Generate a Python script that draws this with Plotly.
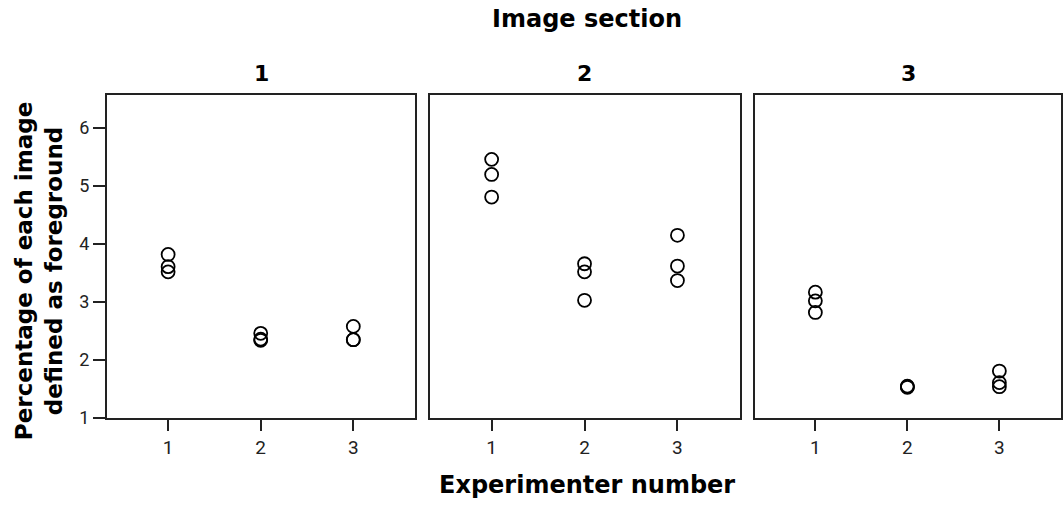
import plotly.graph_objects as go

sections = ["1", "2", "3"]
experimenters = [1, 2, 3]
y_tick_vals = [1, 2, 3, 4, 5, 6]

# values per section, per experimenter (three images each)
sec1_exp1 = [3.82, 3.61, 3.52]
sec1_exp2 = [2.46, 2.36, 2.34]
sec1_exp3 = [2.58, 2.35, 2.35]
sec2_exp1 = [5.46, 5.20, 4.81]
sec2_exp2 = [3.66, 3.52, 3.03]
sec2_exp3 = [4.15, 3.62, 3.37]
sec3_exp1 = [3.17, 3.02, 2.82]
sec3_exp2 = [1.55, 1.54, 1.53]
sec3_exp3 = [1.81, 1.61, 1.54]

data = [
    [sec1_exp1, sec1_exp2, sec1_exp3],
    [sec2_exp1, sec2_exp2, sec2_exp3],
    [sec3_exp1, sec3_exp2, sec3_exp3],
]

W, H = 1063, 506
ml, mr, mt, mb = 107, 0, 95, 88
pw = W - ml - mr
ph = H - mt - mb
panels_px = [(107, 416), (431, 741), (756, 1063)]
domains = [[(a - ml) / pw, (b - ml) / pw] for a, b in panels_px]

fig = go.Figure()
xtick_font = dict(family="Roboto, Arial, sans-serif", size=19, color="#222")
ytick_font = dict(family="Roboto, Arial, sans-serif", size=18, color="#222")
title_font = "DejaVu Sans, Arial, sans-serif"

for i, sec in enumerate(data):
    xs, ys = [], []
    for e, vals in zip(experimenters, sec):
        xs += [e] * len(vals)
        ys += vals
    suffix = "" if i == 0 else str(i + 1)
    fig.add_trace(go.Scatter(
        x=xs, y=ys, mode="markers",
        marker=dict(symbol="circle-open", size=13, color="black",
                    line=dict(width=1.8, color="black")),
        xaxis="x" + suffix, yaxis="y" + suffix, showlegend=False,
        hoverinfo="x+y",
    ))
    xa = dict(domain=domains[i], range=[0.34, 3.67], tickvals=experimenters,
              ticktext=[str(e) for e in experimenters],
              ticks="outside", ticklen=11, tickwidth=2, tickcolor="#222",
              showline=True, mirror=True, linecolor="#222", linewidth=2,
              showgrid=False, zeroline=False, tickfont=xtick_font,
              anchor="y" + suffix, fixedrange=True)
    ya = dict(domain=[0, 1], range=[1, 6.57], showline=True, mirror=True,
              linecolor="#222", linewidth=2, showgrid=False, zeroline=False,
              anchor="x" + suffix, fixedrange=True)
    if i == 0:
        ya.update(tickvals=y_tick_vals, ticktext=[str(v) for v in y_tick_vals],
                  ticks="outside", ticklen=12, tickwidth=2, tickcolor="#222",
                  tickfont=ytick_font)
    else:
        ya.update(showticklabels=False, ticks="")
    fig.update_layout({"xaxis" + suffix: xa, "yaxis" + suffix: ya})

annotations = []
annotations.append(dict(text="<b>Image section</b>", xref="paper", yref="paper",
                        x=(588 - ml) / pw, y=(H - mb - 19) / ph, showarrow=False,
                        xanchor="center", yanchor="middle",
                        font=dict(family=title_font, size=24, color="black")))
for i, s in enumerate(sections):
    a, b = panels_px[i]
    cx = (a + b) / 2 if i < 2 else (a + 1065) / 2
    annotations.append(dict(text="<b>" + s + "</b>", xref="paper", yref="paper",
                            x=(cx - ml) / pw, y=(H - mb - 73) / ph, showarrow=False,
                            xanchor="center", yanchor="middle",
                            font=dict(family=title_font, size=22, color="black")))
annotations.append(dict(text="<b>Experimenter number</b>", xref="paper", yref="paper",
                        x=(588 - ml) / pw, y=(H - mb - 485) / ph, showarrow=False,
                        xanchor="center", yanchor="middle",
                        font=dict(family=title_font, size=24, color="black")))
annotations.append(dict(text="<b>Percentage of each image<br>defined as foreground</b>",
                        xref="paper", yref="paper",
                        x=(39 - ml) / pw, y=(H - mb - 271) / ph, showarrow=False,
                        xanchor="center", yanchor="middle", textangle=-90,
                        font=dict(family=title_font, size=23, color="black")))

fig.update_layout(width=W, height=H, margin=dict(l=ml, r=mr, t=mt, b=mb),
                  plot_bgcolor="white", paper_bgcolor="white",
                  annotations=annotations)

fig.write_html("out.html", config={"displayModeBar": False})
